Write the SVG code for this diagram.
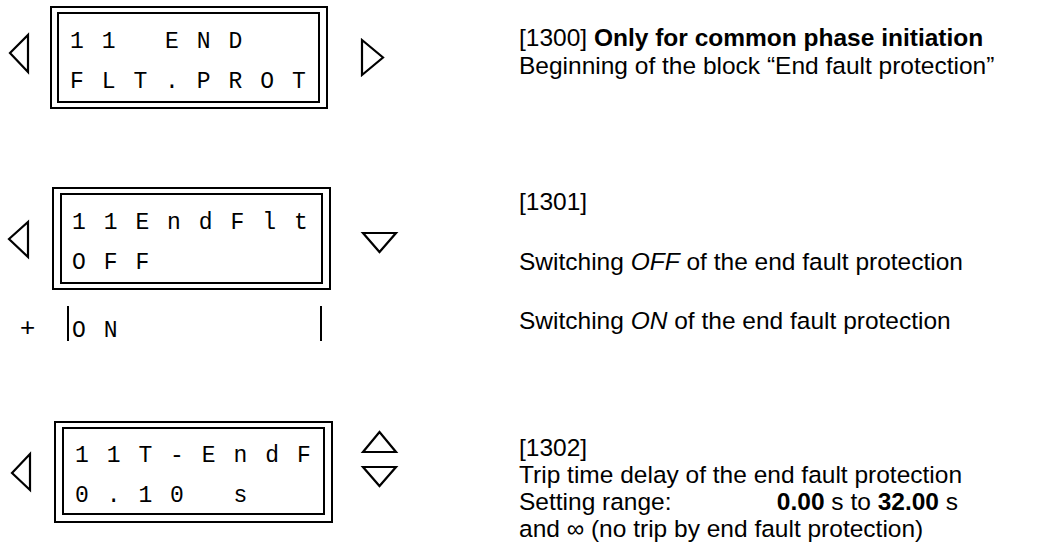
<svg xmlns="http://www.w3.org/2000/svg" width="1060" height="545" viewBox="0 0 1060 545">
<style>
.frame{fill:none;stroke:#000;stroke-width:2}
.tri{fill:none;stroke:#000;stroke-width:2.2;stroke-linejoin:miter}
.lcd{font-family:"Liberation Mono","DejaVu Sans Mono",monospace;font-size:23px;letter-spacing:17.9px;fill:#000;white-space:pre}
.txt{font-family:"Liberation Sans",Arial,sans-serif;font-size:24.5px;fill:#000}
.b{font-weight:bold}
.i{font-style:italic}
</style>
<rect width="1060" height="545" fill="#fff"/>
<g id="lcd1300">
<rect class="frame" x="51" y="7" width="276" height="101"/>
<rect class="frame" x="58" y="13" width="261" height="89"/>
<text class="lcd" x="70" y="48" xml:space="preserve">11 END</text>
<text class="lcd" x="70" y="88" xml:space="preserve">FLT.PROT</text>
<polygon class="tri" points="10,53 28,35 28,72"/>
<polygon class="tri" points="362,40 383,57.5 362,75"/>
</g>
<g id="lcd1301">
<rect class="frame" x="53" y="188" width="277" height="101"/>
<rect class="frame" x="61" y="194" width="261" height="89"/>
<text class="lcd" x="72" y="229" xml:space="preserve">11EndFlt</text>
<text class="lcd" x="72" y="269" xml:space="preserve">OFF</text>
<polygon class="tri" points="9,239 28,222 28,257"/>
<polygon class="tri" points="363,233 396,233 379.5,252"/>
</g>
<g id="lcd1301on">
<text class="txt" x="20" y="336" style="font-size:26px">+</text>
<line class="frame" x1="68" y1="306" x2="68" y2="341"/>
<line class="frame" x1="321" y1="306" x2="321" y2="341"/>
<text class="lcd" x="72" y="337" xml:space="preserve">ON</text>
</g>
<g id="lcd1302">
<rect class="frame" x="55" y="422" width="277" height="100"/>
<rect class="frame" x="63" y="428" width="261" height="86"/>
<text class="lcd" x="75" y="462" xml:space="preserve">11T-EndF</text>
<text class="lcd" x="75" y="502" xml:space="preserve">0.10 s</text>
<polygon class="tri" points="12,473 30,454 30,490"/>
<polygon class="tri" points="363,452 396,452 379.5,432"/>
<polygon class="tri" points="363,467 396,467 379.5,486"/>
</g>
<g id="desc1300">
<text class="txt" x="519" y="46">[1300] <tspan class="b">Only for common phase initiation</tspan></text>
<text class="txt" x="519" y="74">Beginning of the block “End fault protection”</text>
</g>
<g id="desc1301">
<text class="txt" x="519" y="210">[1301]</text>
<text class="txt" x="519" y="270">Switching <tspan class="i">OFF</tspan> of the end fault protection</text>
<text class="txt" x="519" y="329">Switching <tspan class="i">ON</tspan> of the end fault protection</text>
</g>
<g id="desc1302">
<text class="txt" x="519" y="456">[1302]</text>
<text class="txt" x="519" y="483">Trip time delay of the end fault protection</text>
<text class="txt" x="519" y="510">Setting range:</text>
<text class="txt" x="958" y="510" text-anchor="end"><tspan class="b">0.00</tspan> s to <tspan class="b">32.00</tspan> s</text>
<text class="txt" x="519" y="537">and ∞ (no trip by end fault protection)</text>
</g>
<g id="connectors"/>
</svg>
